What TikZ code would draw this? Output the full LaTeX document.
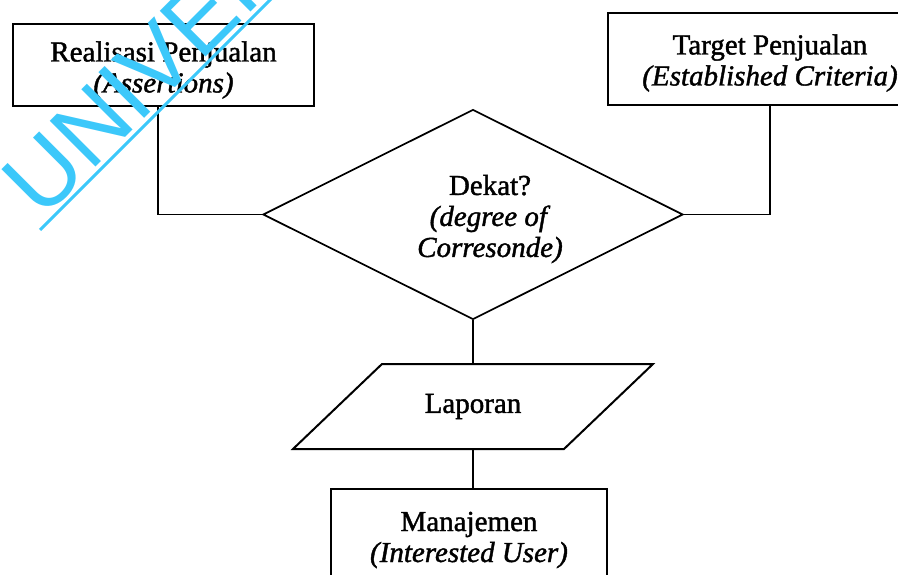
\documentclass[tikz,border=0pt]{standalone}
\usepackage{fontspec}
\setmainfont{Liberation Serif}[FakeBold=1.4]
\newfontfamily\wmfont{Liberation Sans}
\usetikzlibrary{shapes.geometric}
\definecolor{wmcyan}{RGB}{60,200,250}
\begin{document}
\begin{tikzpicture}[x=1pt,y=-1pt,
  every node/.style={font={\fontsize{29}{31}\selectfont}, align=center},
  box/.style={draw, line width=2pt, inner sep=0pt},
  link/.style={line width=1.7pt},
  lbl/.style={inner sep=0pt},
]
\useasboundingbox (0,0) rectangle (898,575);
\begin{scope}
\clip (0,0) rectangle (898,575);

% source boxes
\node[box, minimum width=301pt, minimum height=82pt] (real) at (163.5,65) {};
\node[lbl] (realtext) at (163.5,70) {Realisasi Penjualan\\\textit{(Assertions)}};

\node[box, minimum width=324pt, minimum height=92pt] (target) at (770,59) {};
\node[lbl] (targettext) at (770,63) {Target Penjualan\\\textit{(Established Criteria)}};

% decision
\node[draw, diamond, shape aspect=2, line width=1.7pt, inner sep=0pt,
      minimum width=420pt, minimum height=210pt] (dec) at (473,214.5) {};
\node[lbl] (dectext) at (490,219) {Dekat?\\\textit{(degree of}\\\textit{Corresonde)}};

% report (parallelogram)
\node[inner sep=0pt, outer sep=0pt, minimum width=271pt, minimum height=85pt] (lap) at (473,406.5) {Laporan};
\draw[line width=2pt] ([xshift=44.5pt]lap.north west) -- ([xshift=44.5pt]lap.north east)
  -- ([xshift=-44.5pt]lap.south east) -- ([xshift=-44.5pt]lap.south west) -- cycle;

% user
\node[box, minimum width=276pt, minimum height=103pt] (man) at (469,540.5) {};
\node[lbl] (mantext) at (469,540) {Manajemen\\\textit{(Interested User)}};

% connectors
\draw[link] ([xshift=-5.5pt]real.south) |- (dec.west);
\draw[link] (target.south) |- (dec.east);
\draw[link] (dec.south) -- (lap.north);
\draw[link] (lap.south) -- (lap.south |- man.north);

% watermark
\draw[wmcyan, line width=3pt] (40,230) -- (300,-30);
\node[wmcyan, rotate=45, anchor=base west, inner sep=0pt,
      font={\wmfont\fontsize{94}{94}\selectfont}] (wm) at (42,221) {UNIVERSITAS};
\end{scope}
\end{tikzpicture}
\end{document}
